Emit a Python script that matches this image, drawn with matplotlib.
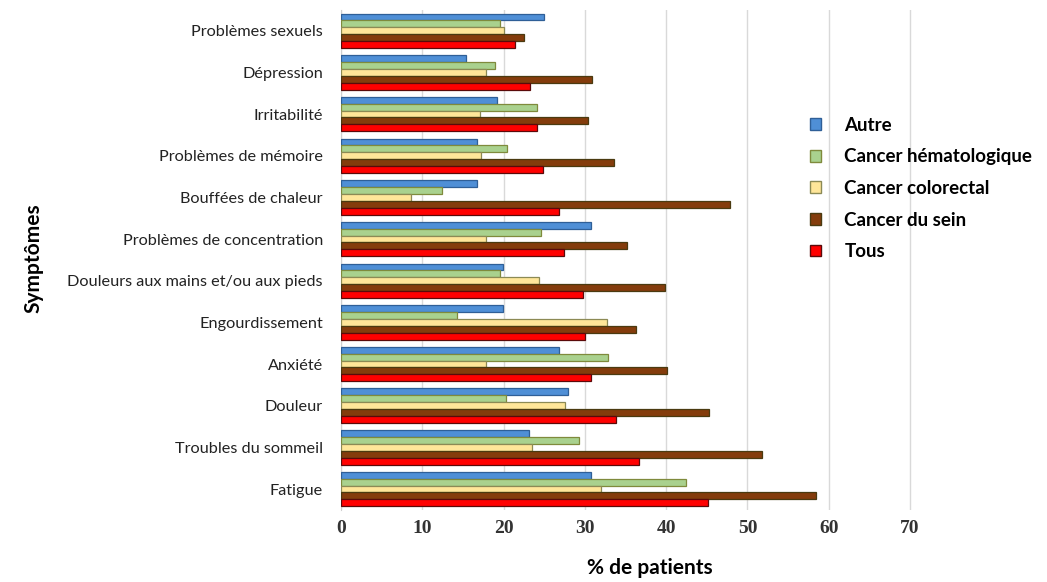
import numpy as np
from matplotlib import pyplot as plt
from matplotlib.patches import Patch

symptomes = ["Problèmes sexuels", "Dépression", "Irritabilité", "Problèmes de mémoire",
             "Bouffées de chaleur", "Problèmes de concentration",
             "Douleurs aux mains et/ou aux pieds", "Engourdissement", "Anxiété",
             "Douleur", "Troubles du sommeil", "Fatigue"]

autre = [25.0, 15.4, 19.2, 16.7, 16.7, 30.8, 19.9, 19.9, 26.8, 27.9, 23.1, 30.8]
hemato = [19.6, 18.9, 24.1, 20.4, 12.4, 24.6, 19.6, 14.3, 32.8, 20.3, 29.3, 42.4]
colorectal = [20.1, 17.8, 17.1, 17.2, 8.6, 17.8, 24.3, 32.7, 17.8, 27.6, 23.5, 32.0]
sein = [22.5, 30.9, 30.4, 33.6, 47.8, 35.2, 39.9, 36.3, 40.1, 45.3, 51.8, 58.4]
tous = [21.4, 23.3, 24.1, 24.8, 26.8, 27.4, 29.8, 30.0, 30.7, 33.8, 36.7, 45.1]

series = ["Autre", "Cancer hématologique", "Cancer colorectal", "Cancer du sein", "Tous"]
colors = ["#4f8fd6", "#a9d18e", "#ffe699", "#843c0c", "#ff0000"]
edges = ["#2f5f97", "#7f8a3c", "#8c8a55", "#4a3a10", "#5a0a0a"]

fig = plt.figure(figsize=(10.47, 5.82), dpi=100)
ax = fig.add_axes([0.3257, 0.124, 0.877 - 0.3257, 0.983 - 0.124])

y = np.arange(len(symptomes))
h = 0.165
for k, vals in enumerate([autre, hemato, colorectal, sein, tous]):
    ax.barh(y + (k - 2) * h, vals, height=h, color=colors[k], edgecolor=edges[k],
            linewidth=0.9, zorder=3)

ax.set_ylim(-0.5, len(symptomes) - 0.5)
ax.invert_yaxis()
ax.set_xlim(0, 71)
ax.set_xticks(range(0, 80, 10))
ax.set_xticklabels([str(v) for v in range(0, 80, 10)], fontfamily="Liberation Serif",
                   fontweight="bold", fontsize=14, color="#333333")
ax.set_yticks(y)
ax.set_yticklabels(symptomes, fontfamily="Lato", fontsize=11.7, color="#222222")
ax.tick_params(axis="both", length=0)
ax.tick_params(axis="x", pad=7)
ax.tick_params(axis="y", pad=13)
ax.grid(axis="x", color="#d9d9d9", linewidth=1, zorder=0)
for s in ["top", "right", "bottom"]:
    ax.spines[s].set_visible(False)
ax.spines["left"].set_color("#d0d0d0")

fig.text(0.032, 0.557, "Symptômes", rotation=90, fontfamily="Lato", fontweight="bold",
         fontsize=15, ha="center", va="center")
fig.text(0.621, 0.024, "% de patients", fontfamily="Lato", fontweight="bold",
         fontsize=15, ha="center", va="center")

handles = [Patch(facecolor=colors[k], edgecolor=edges[k]) for k in range(5)]
fig.legend(handles, series, loc="upper left", bbox_to_anchor=(0.7576, 0.8286),
           frameon=False, prop={"family": "Lato", "weight": "bold", "size": 13.5},
           handlelength=0.6, handleheight=0.6, labelspacing=0.78, handletextpad=1.23)

plt.savefig("out.png")
